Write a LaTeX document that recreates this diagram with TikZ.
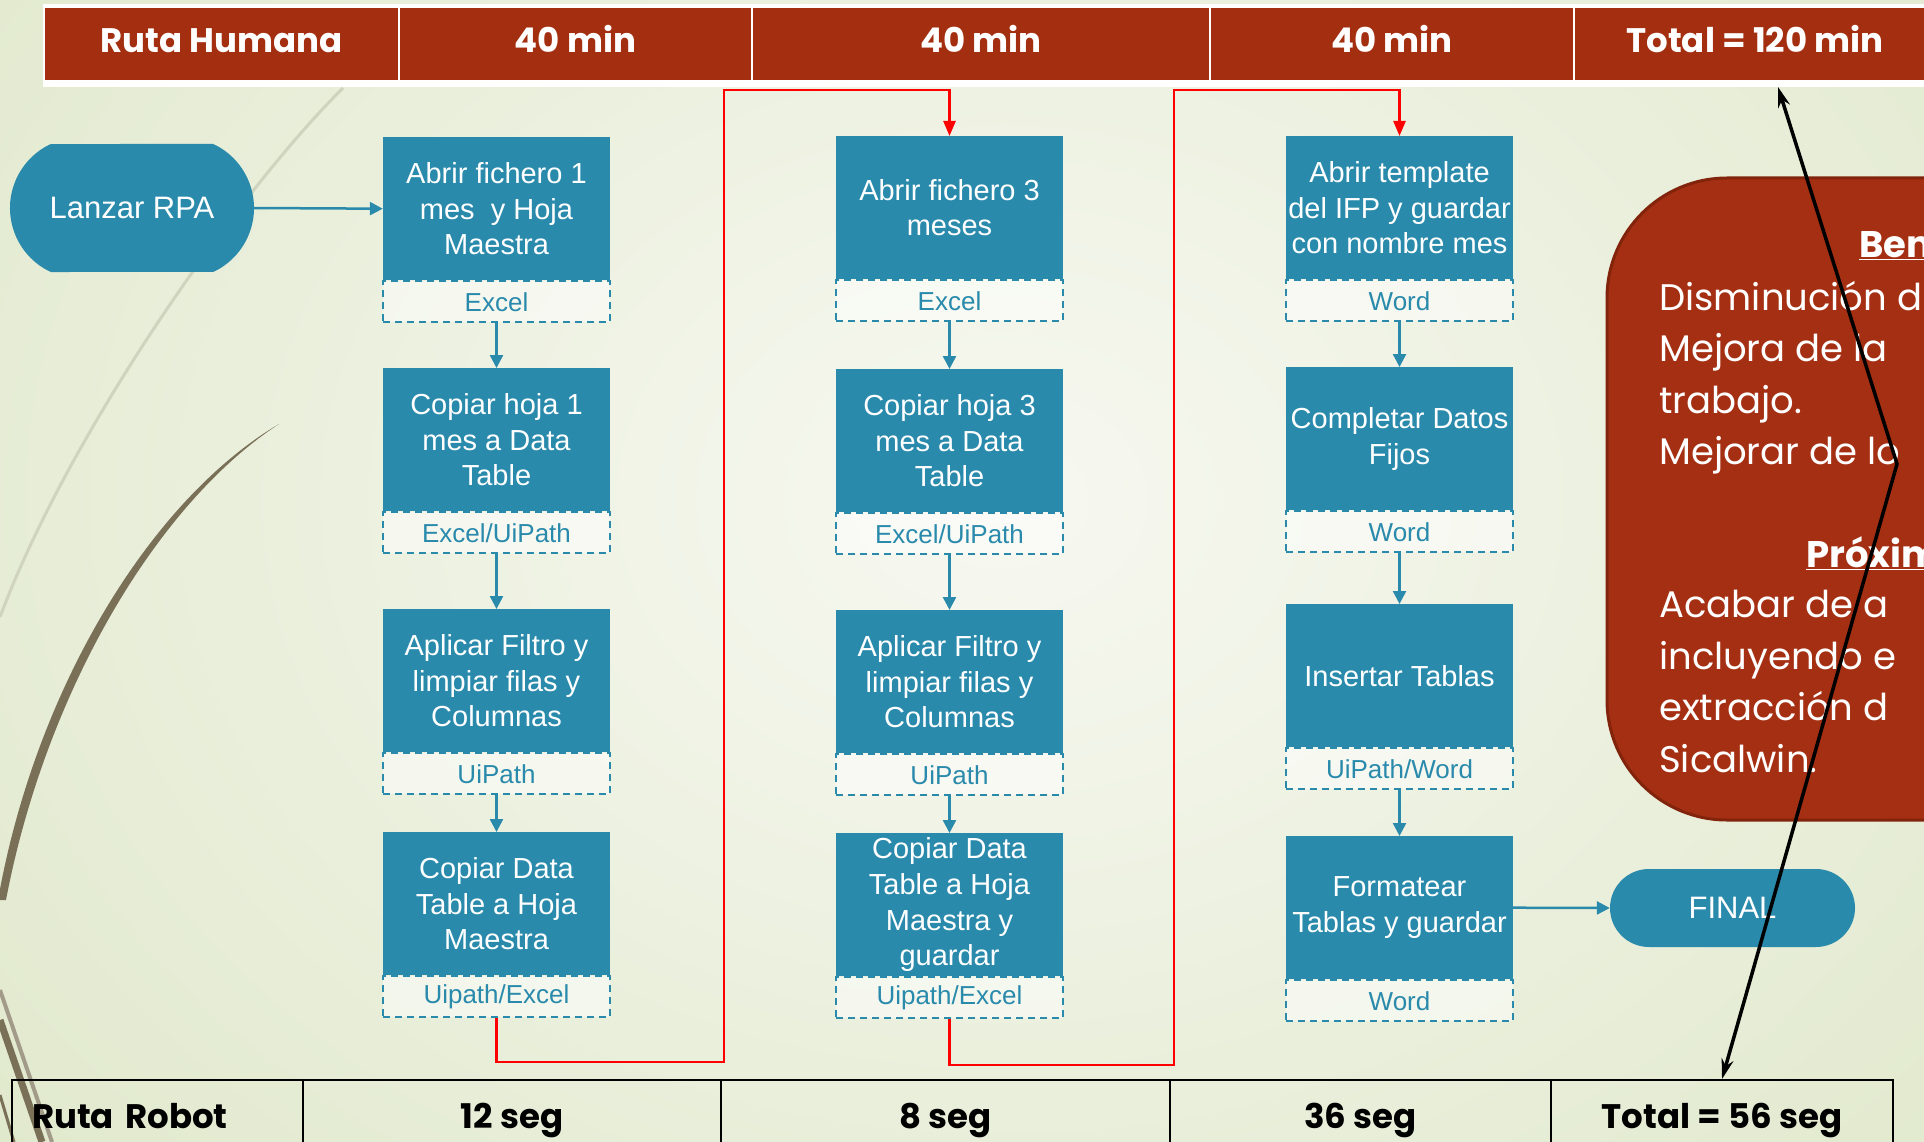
\documentclass[tikz,border=0pt]{standalone}
\usepackage{fontspec}
\setmainfont{Liberation Sans}
\newfontfamily\headfont{Poppins}
\usetikzlibrary{arrows.meta,shapes.misc}

\definecolor{hdred}{RGB}{163,47,16}
\definecolor{notered}{RGB}{165,47,18}
\definecolor{noteedge}{RGB}{130,36,12}
\definecolor{rpablue}{RGB}{41,138,172}
\definecolor{bglight}{RGB}{247,248,241}
\definecolor{bgdark}{RGB}{225,233,205}
\definecolor{stemcol}{RGB}{122,112,87}
\definecolor{faintcol}{RGB}{208,212,190}

\begin{document}
\begin{tikzpicture}[x=1pt,y=-1pt,
    head/.style={draw=white,line width=2pt,fill=hdred,text=white,minimum height=74pt,inner sep=0pt,
      text height=26pt,text depth=8pt,font=\headfont\bfseries\fontsize{34}{40}\selectfont},
    robot/.style={draw=black,line width=2pt,minimum height=80pt,inner sep=0pt,
      text height=26pt,text depth=9pt,font=\headfont\bfseries\fontsize{34}{40}\selectfont},
    task/.style={fill=rpablue,text=white,anchor=north,minimum width=227pt,minimum height=143pt,
      inner sep=0pt,align=center,font=\fontsize{29}{35.6}\selectfont},
    tool/.style={draw=rpablue,dash pattern=on 7pt off 5pt,line width=2pt,fill=white,fill opacity=0.5,
      text opacity=1,text=rpablue,anchor=north,minimum width=227pt,minimum height=41pt,inner sep=0pt,
      font=\fontsize{26}{30}\selectfont},
    term/.style={rounded rectangle,fill=rpablue,text=white,inner sep=0pt,font=\fontsize{31}{36}\selectfont},
    flow/.style={draw=rpablue,line width=2.5pt,-{Triangle[length=13pt,width=13pt]}},
    jump/.style={draw=red,line width=2.5pt,-{Triangle[length=15pt,width=12pt]}},
    note/.style={text=white,anchor=north west,inner sep=0pt,align=left,
      font=\headfont\fontsize{37}{51.5}\selectfont}]
\useasboundingbox (0,0) rectangle (1924,1142);
\clip (0,0) rectangle (1924,1142);
\shade[inner color=bglight,outer color=bgdark] (-300,-500) rectangle (2300,1500);

% background strokes
\draw[faintcol,line width=3pt] (343,88) .. controls (240,190) and (70,430) .. (0,617);
\fill[stemcol] (279,424) .. controls (150,500) and (35,690) .. (-2,900) -- (6,900) .. controls (45,695) and (155,505) .. (279,424) -- cycle;
\draw[stemcol!70,line width=4pt] (0,990) -- (52,1142);
\draw[stemcol,line width=7pt] (0,1020) -- (42,1142);
\draw[stemcol,line width=3pt] (0,1095) -- (14,1142);

% header
\fill[white] (43,4) rectangle (1924,87);
\node[head,minimum width=355pt] (h0) at (221.5,44) {Ruta Humana};
\node[head,minimum width=353pt] (h1) at (575.5,44) {40 min};
\node[head,minimum width=458pt] (h2) at (981,44) {40 min};
\node[head,minimum width=364pt] (h3) at (1392,44) {40 min};
\node[head,minimum width=362pt] (h4) at (1755,44) {Total = 120 min};

% robot row
\node[robot,minimum width=291pt,text width=251pt,inner xsep=20pt,align=left] (r0) at (157.5,1120) {Ruta Robot};
\node[robot,minimum width=418pt] (r1) at (512,1120) {12 seg};
\node[robot,minimum width=449pt] (r2) at (945.5,1120) {8 seg};
\node[robot,minimum width=381pt] (r3) at (1360.5,1120) {36 seg};
\node[robot,minimum width=342pt] (r4) at (1722,1120) {Total = 56 seg};

% start
\node[term,rounded rectangle arc length=130,minimum width=244pt,minimum height=128pt] (rpa) at (132,208) {Lanzar RPA};

% column 1
\node[task] (t11) at (496.5,137) {Abrir fichero 1\\mes\ \ y Hoja\\Maestra};
\node[tool] (l11) at (t11.south) {Excel};
\node[task] (t12) at (496.5,368) {Copiar hoja 1\\mes a Data\\Table};
\node[tool] (l12) at (t12.south) {Excel/UiPath};
\node[task] (t13) at (496.5,609) {Aplicar Filtro y\\limpiar filas y\\Columnas};
\node[tool] (l13) at (t13.south) {UiPath};
\node[task] (t14) at (496.5,832) {Copiar Data\\Table a Hoja\\Maestra};
\node[tool] (l14) at (t14.south) {Uipath/Excel};

% column 2
\node[task] (t21) at (949.5,136) {Abrir fichero 3\\meses};
\node[tool] (l21) at (t21.south) {Excel};
\node[task] (t22) at (949.5,369) {Copiar hoja 3\\mes a Data\\Table};
\node[tool] (l22) at (t22.south) {Excel/UiPath};
\node[task] (t23) at (949.5,610) {Aplicar Filtro y\\limpiar filas y\\Columnas};
\node[tool] (l23) at (t23.south) {UiPath};
\node[task] (t24) at (949.5,833) {Copiar Data\\Table a Hoja\\Maestra y\\guardar};
\node[tool] (l24) at (t24.south) {Uipath/Excel};

% column 3
\node[task] (t31) at (1399.5,136) {Abrir template\\del IFP y guardar\\con nombre mes};
\node[tool] (l31) at (t31.south) {Word};
\node[task] (t32) at (1399.5,367) {Completar Datos\\Fijos};
\node[tool] (l32) at (t32.south) {Word};
\node[task] (t33) at (1399.5,604) {Insertar Tablas};
\node[tool] (l33) at (t33.south) {UiPath/Word};
\node[task] (t34) at (1399.5,836) {Formatear\\Tablas y guardar};
\node[tool] (l34) at (t34.south) {Word};

\node[term,rounded rectangle arc length=180,minimum width=245pt,minimum height=78pt] (fin) at (1732.5,908) {FINAL};

\draw[flow] (rpa.east) -- (t11.west);
\draw[flow] (l11.south) -- (t12.north);
\draw[flow] (l12.south) -- (t13.north);
\draw[flow] (l13.south) -- (t14.north);
\draw[flow] (l21.south) -- (t22.north);
\draw[flow] (l22.south) -- (t23.north);
\draw[flow] (l23.south) -- (t24.north);
\draw[flow] (l31.south) -- (t32.north);
\draw[flow] (l32.south) -- (t33.north);
\draw[flow] (l33.south) -- (t34.north);
\draw[flow] (t34.east) -- (fin.west);

% red jumps between columns
\coordinate (ja) at (724,1062);
\coordinate (jb) at (724,90);
\coordinate (jc) at (1174,1065);
\coordinate (jd) at (1174,90);
\draw[jump] (l14.south) |- (ja) -- (jb) -| (t21.north);
\draw[jump] (l24.south) |- (jc) -- (jd) -| (t31.north);

% notes box
\draw[fill=notered,draw=noteedge,line width=3pt,rounded corners=120pt] (2000,178) -- (1607,178) -- (1607,820) -- (2000,820);
\node[note,anchor=west,font=\headfont\bfseries\fontsize{37}{44}\selectfont] (b1) at (1859,246) {\underline{Ben}};
\node[note] (b2) at (1659,281) {Disminución d\\Mejora de la\\trabajo.\\Mejorar de lo};
\node[note,anchor=west,font=\headfont\bfseries\fontsize{37}{44}\selectfont] (b3) at (1806,553) {\underline{Próxim}};
\node[note] (b4) at (1659,590) {Acabar de a\\incluyendo e\\extracción d\\Sicalwin.};

% time comparison
\coordinate (ta) at (1778,87);
\coordinate (tk) at (1897,464);
\draw[black,line width=3.5pt,{Stealth[length=20pt,width=12pt]}-{Stealth[length=20pt,width=12pt]}] (ta) -- (tk) -- (r4.north);
\end{tikzpicture}
\end{document}
